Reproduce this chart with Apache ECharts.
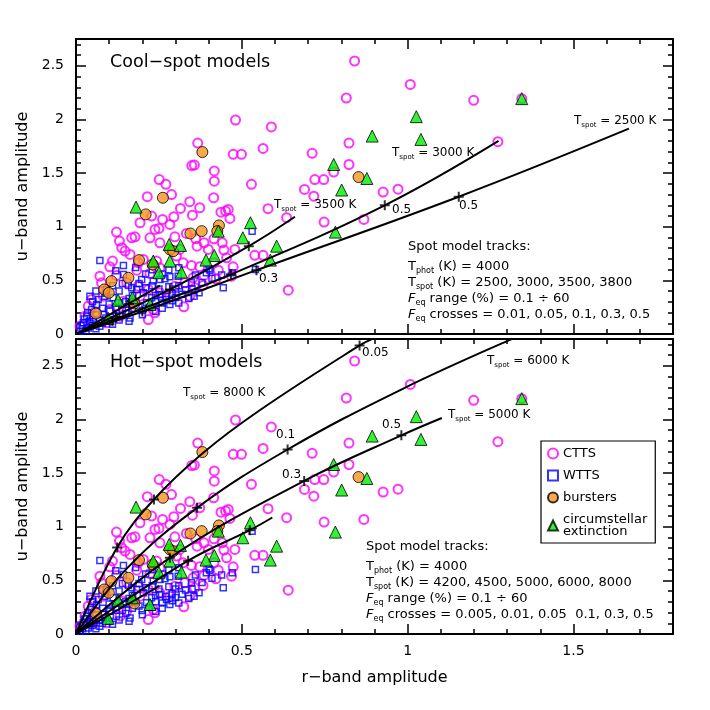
<!DOCTYPE html>
<html>
<head>
<meta charset="utf-8">
<script src="https://cdn.jsdelivr.net/npm/echarts@6/dist/echarts.min.js"></script>
<style>
  html, body { margin: 0; padding: 0; background: #fff; }
  #chart { width: 710px; height: 710px; }
</style>
</head>
<body>
<div id="chart"></div>
<script>
// observed samples: [r amplitude, u amplitude]
const ctts = [
  [0.840,2.545],[0.815,2.20],[1.008,2.327],[1.199,2.178],[1.344,2.194],[1.272,1.793],
  [0.481,1.995],[0.589,1.93],[0.367,1.78],[0.564,1.73],[0.474,1.675],[0.499,1.675],
  [0.712,1.684],[0.823,1.78],[0.349,1.57],[0.357,1.575],[0.417,1.52],[0.417,1.425],
  [0.529,1.395],[0.251,1.44],[0.271,1.395],[0.288,1.30],[0.215,1.28],[0.415,1.27],
  [0.689,1.348],[0.72,1.44],[0.747,1.44],[0.717,1.285],[0.823,1.58],[0.777,1.51],
  [0.926,1.323],[0.971,1.35],[0.579,1.168],[0.635,1.084],[0.748,1.043],[0.868,1.068],
  [0.640,0.409],[0.325,0.254],
  [0.193,1.037],[0.25,0.984],[0.261,1.068],[0.295,1.093],[0.315,1.171],[0.351,1.108],
  [0.373,1.177],[0.343,1.233],[0.437,1.136],[0.451,1.146],[0.459,1.161],[0.464,1.077],
  [0.298,0.906],[0.333,0.937],[0.361,0.887],[0.365,0.819],[0.386,0.85],[0.399,0.788],
  [0.416,0.887],[0.441,0.85],[0.446,0.782],[0.479,0.788],[0.416,0.664],[0.429,0.595],
  [0.454,0.71],[0.474,0.626],[0.469,0.539],[0.539,0.733],[0.564,0.733],
  [0.223,0.897],[0.238,0.975],[0.253,0.85],[0.303,0.726],[0.323,0.664],[0.348,0.639],
  [0.373,0.626],[0.386,0.546],[0.422,0.515],[0.353,0.524],[0.122,0.95],[0.131,0.866],
  [0.168,0.897],[0.178,0.906],[0.138,0.804],[0.148,0.773],[0.163,0.742],[0.110,0.68],
  [0.188,0.664],[0.102,0.626],[0.203,0.695],[0.243,0.68],[0.253,0.617],[0.223,0.564],
  [0.183,0.595],[0.122,0.546],[0.072,0.539],[0.077,0.477],[0.153,0.477],[0.188,0.446],
  [0.218,0.415],[0.253,0.384],[0.193,0.353],[0.143,0.306],[0.037,0.26],[0.047,0.322],
  [0.062,0.197],[0.102,0.228],[0.153,0.213],[0.233,0.228],[0.283,0.353],[0.298,0.446],
  [0.328,0.477],[0.358,0.431],[0.383,0.453],[0.343,0.353],[0.082,0.353],[0.027,0.166],
  [0.052,0.104],[0.012,0.073],[0.092,0.104],[0.133,0.166],[0.218,0.135],[0.238,0.197],
  [0.313,0.788],[0.283,1.021],[0.228,1.099]
];
const wtts = [
  [0.072,0.686],[0.143,0.639],[0.31,0.617],[0.531,0.959],[0.401,0.608],[0.439,0.549],
  [0.471,0.571],[0.541,0.602],[0.444,0.431],[0.356,0.353],[0.371,0.384],[0.348,0.478],
  [0.042,0.352],[0.198,0.508],[0.158,0.452],[0.168,0.43],[0.143,0.555],[0.233,0.493],
  [0.253,0.508],[0.268,0.515],[0.283,0.533],[0.308,0.539],[0.393,0.571],[0.404,0.595],
  [0.283,0.275],[0.273,0.322],[0.253,0.368],[0.228,0.337],[0.203,0.384],[0.183,0.415],
  [0.213,0.291],[0.163,0.15],[0.128,0.291],[0.112,0.337],[0.087,0.352],[0.092,0.415],
  [0.067,0.322],[0.062,0.275],[0.047,0.228],[0.032,0.166],[0.022,0.104],[0.052,0.135],
  [0.082,0.181],[0.102,0.213],[0.122,0.166],[0.072,0.073],[0.037,0.057],[0.012,0.026],
  [0.02,0.05],[0.03,0.03],[0.05,0.08],[0.06,0.05],[0.08,0.1],[0.1,0.12],[0.11,0.09],
  [0.13,0.13],[0.15,0.19],[0.14,0.22],[0.17,0.24],[0.19,0.26],[0.2,0.22],[0.22,0.25],
  [0.24,0.3],[0.26,0.29],[0.27,0.35],[0.3,0.34],[0.32,0.37],[0.33,0.41],[0.35,0.42],
  [0.3,0.42],[0.28,0.44],[0.25,0.42],[0.23,0.45],[0.21,0.43],[0.19,0.47],[0.17,0.36],
  [0.15,0.3],[0.12,0.25],[0.1,0.28],[0.08,0.24],[0.06,0.18],[0.04,0.12],[0.09,0.15],
  [0.16,0.33],[0.18,0.3],[0.24,0.36],[0.29,0.38],[0.31,0.45],[0.38,0.48],[0.41,0.52],
  [0.36,0.55],[0.26,0.56],[0.21,0.56],[0.11,0.45],[0.13,0.4],[0.05,0.3],[0.035,0.2],
  [0.025,0.14],[0.015,0.08],[0.045,0.1],[0.07,0.13],[0.2,0.18],[0.24,0.21],[0.16,0.12],
  [0.26,0.24],[0.29,0.31],[0.31,0.29],[0.34,0.33],[0.16,0.28],[0.14,0.47],[0.09,0.38],
  [0.06,0.4],[0.18,0.62],[0.12,0.59],[0.23,0.6],[0.28,0.6]
];
const bursters = [
  [0.381,1.696],[0.852,1.463],[0.262,1.27],[0.21,1.115],[0.431,1.012],[0.426,0.959],
  [0.345,0.937],[0.379,0.959],[0.283,0.788],[0.293,0.772],[0.19,0.689],[0.231,0.648],
  [0.107,0.493],[0.158,0.524],[0.085,0.415],[0.099,0.384],[0.06,0.191],[0.176,0.285]
];
const extinction = [
  [1.344,2.194],[1.026,2.026],[1.04,1.814],[0.893,1.845],[0.777,1.58],[0.877,1.45],
  [0.801,1.342],[0.782,0.95],[0.526,1.037],[0.503,0.897],[0.605,0.819],[0.586,0.689],
  [0.429,0.959],[0.417,0.732],[0.392,0.689],[0.181,1.183],[0.281,0.835],[0.315,0.826],
  [0.283,0.68],[0.233,0.68],[0.318,0.577],[0.25,0.571],[0.127,0.315],[0.17,0.338],
  [0.223,0.275],[0.097,0.146]
];

// model tracks, cool spots (upper panel)
const cool2500 = [[0,0],[0.2,0.21],[0.544,0.595],[1.154,1.28],[1.667,1.914]];
const cool3000 = [[0,0],[0.2,0.235],[0.467,0.555],[0.931,1.2],[1.274,1.80]];
const cool3500 = [[0,0],[0.283,0.415],[0.521,0.819],[0.66,1.093]];
const cool3800 = [[0,0],[0.253,0.452]];
const coolCrosses = [[0.544,0.595],[1.154,1.28],[0.467,0.555],[0.931,1.2],[0.283,0.415],
  [0.521,0.819],[0.11,0.12],[0.2,0.21],[0.12,0.16],[0.16,0.28]];

// model tracks, hot spots (lower panel)
const hot8000 = [[0,0],[0.124,0.807],[0.235,1.254],[0.381,1.683],[0.554,2.086],[0.855,2.69],[0.896,2.753]];
const hot6000 = [[0,0],[0.15,0.6],[0.365,1.176],[0.638,1.72],[0.976,2.272],[1.317,2.753]];
const hot5000 = [[0,0],[0.283,0.71],[0.688,1.427],[0.981,1.852],[1.103,2.014]];
const hot4500 = [[0,0],[0.338,0.683],[0.524,0.968],[0.592,1.086]];
const hot4200 = [[0,0],[0.251,0.447]];
const hotCrosses = [[0.124,0.807],[0.235,1.254],[0.855,2.69],[0.365,1.176],[0.638,1.72],
  [0.283,0.71],[0.688,1.427],[0.981,1.852],[0.338,0.683],[0.524,0.968]];

const FONT = 'DejaVu Sans';
const plusSymbol = 'path://M4,0 H6 V4 H10 V6 H6 V10 H4 V6 H0 V4 H4 Z';

const chart = echarts.init(document.getElementById('chart'));

const grids = [
  { left: 76, top: 39, width: 597, height: 295 },
  { left: 76, top: 339, width: 597, height: 295 }
];

function tickStyle(len) {
  return { show: true, inside: true, length: len, lineStyle: { color: '#000', width: 1.5 } };
}

const xAxis = [], yAxis = [];
grids.forEach((g, gi) => {
  const last = gi === 1;
  ['bottom', 'top'].forEach(pos => {
    xAxis.push({
      gridIndex: gi, type: 'value', position: pos, min: 0, max: 1.8, interval: 0.5,
      axisLine: { show: false, onZero: false }, splitLine: { show: false },
      axisTick: tickStyle(10),
      axisLabel: { show: last && pos === 'bottom', showMaxLabel: false, margin: 10,
        fontSize: 14, fontFamily: FONT, color: '#000' },
      name: last && pos === 'bottom' ? 'r\u2212band amplitude' : '',
      nameLocation: 'middle', nameGap: 36,
      nameTextStyle: { fontSize: 16, fontFamily: FONT, color: '#000' }
    });
    xAxis.push({
      gridIndex: gi, type: 'value', position: pos, min: 0, max: 1.8, interval: 0.1,
      axisLine: { show: false, onZero: false }, splitLine: { show: false },
      axisTick: tickStyle(5), axisLabel: { show: false }
    });
  });
  ['left', 'right'].forEach(pos => {
    yAxis.push({
      gridIndex: gi, type: 'value', position: pos, min: 0, max: 2.75, interval: 0.5,
      axisLine: { show: false, onZero: false }, splitLine: { show: false },
      axisTick: tickStyle(10),
      axisLabel: { show: pos === 'left', showMaxLabel: false, margin: 12,
        fontSize: 14, fontFamily: FONT, color: '#000' },
      name: pos === 'left' ? 'u\u2212band amplitude' : '',
      nameLocation: 'middle', nameGap: 36,
      nameTextStyle: { fontSize: 16, fontFamily: FONT, color: '#000' }
    });
    yAxis.push({
      gridIndex: gi, type: 'value', position: pos, min: 0, max: 2.75, interval: 0.1,
      axisLine: { show: false, onZero: false }, splitLine: { show: false },
      axisTick: tickStyle(5), axisLabel: { show: false }
    });
  });
});

const series = [];
grids.forEach((g, gi) => {
  const ax = { xAxisIndex: gi * 4, yAxisIndex: gi * 4 };
  series.push({ name: 'CTTS', type: 'scatter', ...ax, data: ctts, symbol: 'circle', symbolSize: 9,
    itemStyle: { color: 'rgba(255,255,255,0)', borderColor: '#ff00ff', borderWidth: 2 }, z: 2 });
  series.push({ name: 'WTTS', type: 'scatter', ...ax, data: wtts, symbol: 'rect', symbolSize: 6,
    itemStyle: { color: 'rgba(255,255,255,0)', borderColor: '#0000ff', borderWidth: 1.5 }, z: 3 });
  series.push({ name: 'bursters', type: 'scatter', ...ax, data: bursters, symbol: 'circle', symbolSize: 11,
    itemStyle: { color: '#f7941d', borderColor: '#000', borderWidth: 1 }, z: 4 });
  series.push({ name: 'circumstellar extinction', type: 'scatter', ...ax, data: extinction,
    symbol: 'triangle', symbolSize: 12,
    itemStyle: { color: '#00ee00', borderColor: '#000', borderWidth: 1 }, z: 5 });
});

const coolTracks = [cool2500, cool3000, cool3500, cool3800];
const hotTracks = [hot4200, hot4500, hot5000, hot6000, hot8000];
[[coolTracks, 0], [hotTracks, 1]].forEach(([tracks, gi]) => {
  tracks.forEach(t => {
    series.push({ type: 'line', xAxisIndex: gi * 4, yAxisIndex: gi * 4, data: t, smooth: 0.4,
      showSymbol: false, lineStyle: { color: '#000', width: 2 }, z: 6, silent: true });
  });
});
[[coolCrosses, 0], [hotCrosses, 1]].forEach(([c, gi]) => {
  series.push({ type: 'scatter', xAxisIndex: gi * 4, yAxisIndex: gi * 4, data: c,
    symbol: plusSymbol, symbolSize: 10, itemStyle: { color: '#000' }, z: 7, silent: true });
});

const rich = {
  t: { fontSize: 12, fontFamily: FONT, color: '#000', verticalAlign: 'middle', lineHeight: 16 },
  s: { fontSize: 7, fontFamily: FONT, color: '#000', verticalAlign: 'bottom', lineHeight: 16 },
  b: { fontSize: 13, fontFamily: FONT, color: '#000', verticalAlign: 'middle', lineHeight: 16 },
  bs: { fontSize: 8, fontFamily: FONT, color: '#000', verticalAlign: 'bottom', lineHeight: 16 },
  bi: { fontSize: 13, fontFamily: FONT, fontStyle: 'italic', color: '#000', verticalAlign: 'middle', lineHeight: 16 }
};
function txt(x, y, text, size) {
  return { type: 'text', left: x, top: y - 8, z: 10,
    style: { text, rich, fill: '#000', font: (size || 12) + 'px "DejaVu Sans"' } };
}
function tspot(x, y, val) { return txt(x, y, '{t|T}{s|spot}{t| = ' + val + ' K}'); }
function plain(x, y, s) { return txt(x, y, '{t|' + s + '}'); }
function block(x, y, tspots, crosses) {
  return [
    txt(x, y, '{b|Spot model tracks:}'),
    txt(x, y + 20, '{b|T}{bs|phot}{b| (K) = 4000}'),
    txt(x, y + 36, '{b|T}{bs|spot}{b| (K) = ' + tspots + '}'),
    txt(x, y + 52, '{bi|F}{bs|eq}{b| range (%) = 0.1 \u00f7 60}'),
    txt(x, y + 68, '{bi|F}{bs|eq}{b| crosses = ' + crosses + '}')
  ];
}

const graphic = [
  { type: 'text', left: 110, top: 53, style: { text: 'Cool\u2212spot models', font: '17.5px "DejaVu Sans"', fill: '#000' } },
  { type: 'text', left: 110, top: 353, style: { text: 'Hot\u2212spot models', font: '17.5px "DejaVu Sans"', fill: '#000' } },
  tspot(274, 207, 3500), tspot(392, 155, 3000), tspot(574, 123, 2500),
  plain(392, 212, '0.5'), plain(459, 208, '0.5'), plain(259, 281, '0.3'),
  tspot(183, 395, 8000), tspot(487, 363, 6000), tspot(448, 417, 5000),
  plain(362, 355, '0.05'), plain(276, 437, '0.1'), plain(282, 477, '0.3'), plain(382, 427, '0.5'),
  ...block(408, 248, '2500, 3000, 3500, 3800', '0.01, 0.05, 0.1, 0.3, 0.5'),
  ...block(366, 548, '4200, 4500, 5000, 6000, 8000', '0.005, 0.01, 0.05  0.1, 0.3, 0.5')
];

chart.setOption({
  animation: false,
  grid: grids.map(g => ({ ...g, show: true, borderColor: '#000', borderWidth: 2,
    backgroundColor: 'rgba(0,0,0,0)' })),
  xAxis, yAxis, series, graphic,
  legend: {
    data: ['CTTS', 'WTTS', 'bursters', 'circumstellar extinction'],
    left: 541, top: 441, orient: 'vertical', itemWidth: 10, itemHeight: 10, itemGap: 9,
    borderColor: '#000', borderWidth: 1.2, padding: [6, 8, 5, 6], backgroundColor: '#fff',
    formatter: n => n.replace(' ', '\n'),
    textStyle: { fontSize: 13, fontFamily: FONT, color: '#000', lineHeight: 12 }
  }
});
</script>
</body>
</html>
